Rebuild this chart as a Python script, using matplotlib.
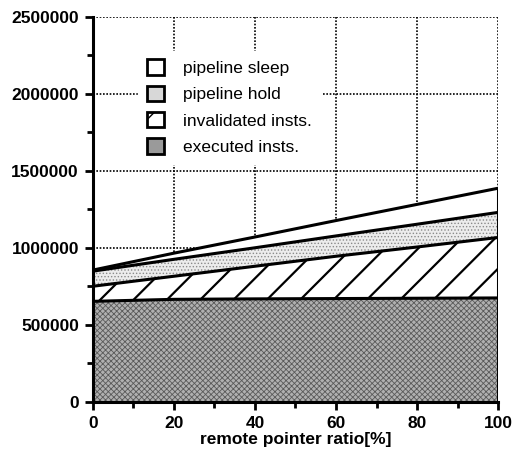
import numpy as np
import matplotlib.pyplot as plt
from matplotlib.patches import Patch
from matplotlib.ticker import MultipleLocator, FuncFormatter

plt.rcParams['font.family'] = ['Liberation Sans', 'DejaVu Sans']

# remote pointer ratio [%]
ratio = [0, 20, 40, 60, 80, 100]
executed = [652000, 665000, 668000, 670000, 672000, 674000]
invalidated = [98000, 150000, 212000, 275000, 333000, 393000]
hold = [98000, 110000, 120000, 132000, 148000, 163000]
sleep = [7000, 40000, 70000, 100000, 129000, 157000]
labels = ['pipeline sleep', 'pipeline hold', 'invalidated insts.', 'executed insts.']

x = np.array(ratio)
b1 = np.array(executed)
b2 = b1 + np.array(invalidated)
b3 = b2 + np.array(hold)
b4 = b3 + np.array(sleep)

fig = plt.figure(figsize=(5.13, 4.58), dpi=100)
ax = fig.add_axes([0.181, 0.123, 0.790, 0.840])

dark_face, light_face = '#b0b0b0', '#ececec'
dark = dict(facecolor=dark_face, edgecolor='#5a5a5a', hatch='xxxxxx')
light = dict(facecolor=light_face, edgecolor='#8a8a8a', hatch='.....')
diag = dict(facecolor='white', edgecolor='black', hatch='/')

with plt.rc_context({'hatch.linewidth': 0.6}):
    ax.fill_between(x, 0, b1, linewidth=0, zorder=2, **dark)
    ax.fill_between(x, b2, b3, linewidth=0, zorder=2, **light)
with plt.rc_context({'hatch.linewidth': 1.6}):
    ax.fill_between(x, b1, b2, linewidth=0, zorder=2, **diag)
ax.fill_between(x, b3, b4, facecolor='white', linewidth=0, zorder=2)
for top in (b1, b2, b3, b4):
    ax.plot(x, top, color='black', lw=2.2, zorder=3, solid_capstyle='butt')
ax.vlines(100, 0, b4[-1], color='black', lw=2.2, zorder=3)

ax.set_xlim(0, 100)
ax.set_ylim(0, 2500000)
ax.xaxis.set_major_locator(MultipleLocator(20))
ax.xaxis.set_minor_locator(MultipleLocator(10))
ax.yaxis.set_major_locator(MultipleLocator(500000))
ax.yaxis.set_minor_locator(MultipleLocator(250000))
ax.yaxis.set_major_formatter(FuncFormatter(lambda v, p: '%d' % v))
ax.grid(True, which='major', color='black', linestyle=(0, (1, 1)), lw=1.2, zorder=1)
ax.set_axisbelow(True)

for s in ('top', 'right'):
    ax.spines[s].set_visible(False)
for s in ('left', 'bottom'):
    ax.spines[s].set_linewidth(2.2)
    ax.spines[s].set_zorder(4)
ax.tick_params(which='major', direction='out', length=6, width=2, labelsize=12.5, pad=4)
ax.tick_params(which='minor', direction='out', length=4, width=2)
for lab in ax.get_xticklabels() + ax.get_yticklabels():
    lab.set_fontweight('bold')
ax.set_xlabel('remote pointer ratio[%]', fontsize=12.5, fontweight='bold', labelpad=1)

with plt.rc_context({'hatch.linewidth': 0.6}):
    h_sleep = Patch(facecolor='white', edgecolor='black', linewidth=2)
    h_hold = Patch(facecolor='#d8d8d8', edgecolor='black', linewidth=2)
    h_exec = Patch(facecolor='#9a9a9a', edgecolor='black', linewidth=2)
with plt.rc_context({'hatch.linewidth': 1.6}):
    h_inv = Patch(facecolor='white', edgecolor='black', linewidth=2, hatch='/')
leg = ax.legend([h_sleep, h_hold, h_inv, h_exec], labels, loc='upper left',
                bbox_to_anchor=(0.09, 0.935), frameon=True, fancybox=False,
                framealpha=1, edgecolor='white', fontsize=12.5,
                handlelength=1.0, handleheight=1.0, handletextpad=1.1,
                labelspacing=0.55, borderpad=0.5)
leg.set_zorder(5)

fig.savefig('out.png', dpi=100)
